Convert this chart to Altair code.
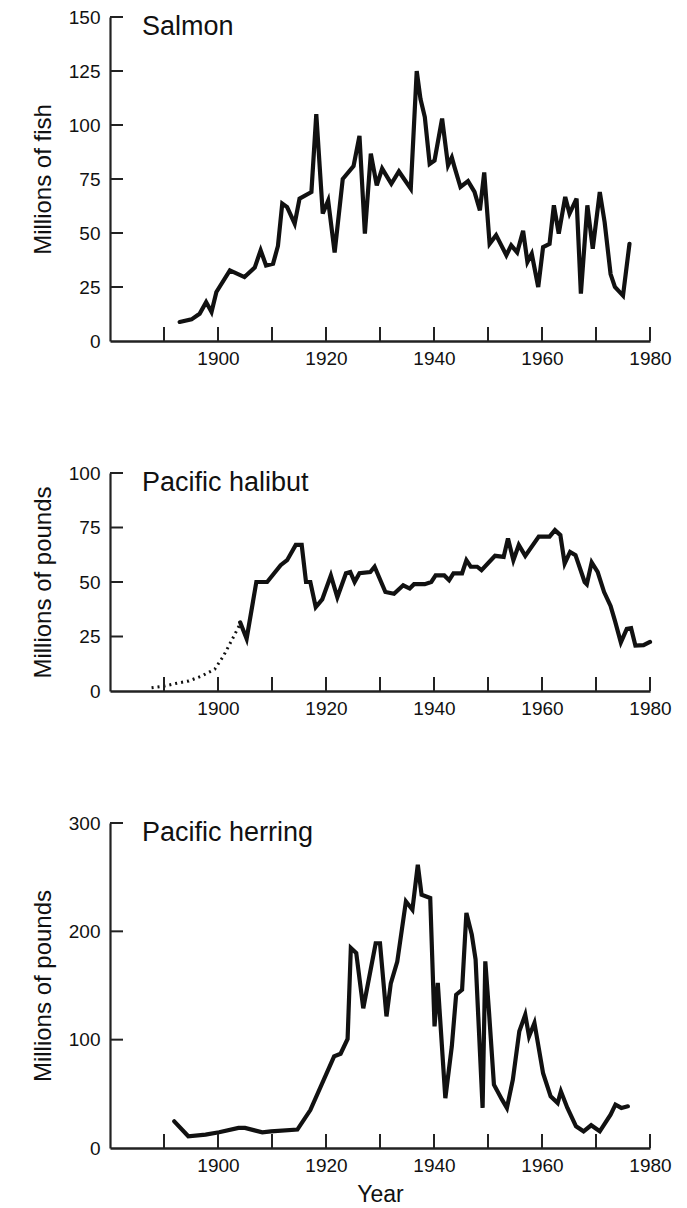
import altair as alt
import pandas as pd

# ---------------- data ----------------
salmon_year = [1892.9, 1895.1, 1896.6, 1897.8, 1898.8, 1899.7, 1902.2, 1904.9, 1906.8, 1907.9,
               1908.9, 1910.2, 1911.1, 1911.9, 1912.8, 1914.2, 1915.1, 1917.3, 1918.2, 1919.4,
               1920.4, 1921.6, 1923.1, 1925.1, 1926.2, 1927.2, 1928.3, 1929.4, 1930.4, 1932.1,
               1933.5, 1935.7, 1936.8, 1937.5, 1938.3, 1939.2, 1940.1, 1941.5, 1942.6, 1943.3,
               1943.8, 1944.9, 1946.3, 1947.5, 1948.5, 1949.3, 1950.3, 1951.5, 1953.4, 1954.3,
               1955.4, 1956.5, 1957.3, 1958.1, 1959.3, 1960.2, 1961.4, 1962.2, 1963.1, 1964.3,
               1965.1, 1966.4, 1967.2, 1968.4, 1969.4, 1970.7, 1971.6, 1972.7, 1973.5, 1975.0,
               1976.2]
salmon_val = [8.8, 10, 12.6, 18, 13.4, 22.7, 32.7, 29.6, 34, 42,
              35, 35.8, 44, 63.6, 62, 54.3, 65.9, 69, 105, 59,
              65, 41, 75, 81, 95, 49.7, 86.7, 72, 79.8, 72.8,
              78.5, 70.5, 125, 112, 103.7, 82, 83.6, 103, 81.3, 85,
              80.5, 71.3, 74, 69, 60.5, 78, 45, 49, 39.7, 44.3,
              41, 51, 36.6, 40.4, 25, 43.5, 45, 62.8, 49.7, 66.7,
              59, 65.9, 21.9, 62.8, 42.7, 69, 55, 31, 25, 21,
              45]

halibut_dot_year = [1887.7, 1890.1, 1892.1, 1894.6, 1897.0, 1899.4, 1901.0, 1902.7, 1904.1]
halibut_dot_val = [1.5, 2.3, 3.4, 4.6, 6.9, 10, 16, 24, 30.8]

halibut_year = [1904.1, 1905.3, 1907.1, 1909.1, 1911.6, 1912.8, 1914.4, 1915.5, 1916.3, 1917.1,
                1918.1, 1919.3, 1920.9, 1922.1, 1923.7, 1924.5, 1925.3, 1926.2, 1928.2, 1929.0,
                1931.0, 1932.6, 1934.3, 1935.5, 1936.3, 1938.3, 1939.5, 1940.3, 1941.9, 1942.8,
                1943.6, 1945.2, 1946.0, 1946.8, 1948.0, 1948.8, 1951.3, 1952.9, 1953.7, 1954.7,
                1955.7, 1956.9, 1959.4, 1961.4, 1962.4, 1963.4, 1964.2, 1965.2, 1966.2, 1967.9,
                1968.3, 1969.2, 1970.3, 1971.5, 1972.7, 1973.5, 1974.6, 1975.7, 1976.5, 1977.3,
                1978.8, 1980.0]
halibut_val = [31.5, 24, 50, 50, 57.7, 60, 67, 67, 50, 50,
               38.5, 42, 53, 43, 54, 54.6, 50, 54, 54.6, 57,
               45.4, 44.6, 48.5, 47, 49, 49, 50, 53, 53, 50.8,
               54, 54, 60, 57, 57, 55.4, 62, 61.5, 70, 60,
               67, 62, 70.8, 70.8, 73.8, 71.5, 58.5, 63.8, 62.3, 50,
               49, 59, 54.6, 45.4, 39, 32.3, 22.3, 28.5, 28.8, 20.8,
               21, 22.5]

herring_year = [1891.9, 1894.5, 1897.7, 1900.2, 1903.8, 1905.0, 1908.2, 1909.8, 1914.7, 1917.1,
                1921.5, 1922.7, 1924.0, 1924.6, 1925.6, 1926.9, 1929.2, 1930.0, 1931.2, 1932.0,
                1933.2, 1934.8, 1936.0, 1937.0, 1937.7, 1939.3, 1940.1, 1940.7, 1942.1, 1943.3,
                1944.1, 1945.2, 1946.0, 1947.0, 1947.7, 1949.0, 1949.5, 1950.2, 1951.1, 1952.6,
                1953.5, 1954.6, 1955.8, 1956.9, 1957.6, 1958.6, 1960.2, 1961.6, 1962.9, 1963.5,
                1964.7, 1966.3, 1967.7, 1969.1, 1970.7, 1972.7, 1973.6, 1974.7, 1975.9]
herring_val = [24.6, 10.8, 12.3, 14.5, 18.5, 18.5, 14.5, 15.4, 17, 35,
               84.6, 87, 100.6, 184.6, 180, 129, 189, 189, 121.5, 152,
               172, 227.7, 220, 261.5, 233.8, 230.8, 112.3, 152.3, 46, 93.8,
               141.5, 146, 217, 197, 174, 37, 172.3, 124.6, 58.5, 44.6,
               37, 63, 107.7, 123, 103, 115.4, 69, 47.7, 41.5, 52.3,
               37, 20, 15.4, 21, 15.4, 30.8, 40, 37, 38.5]

panel_names = ["Salmon", "Pacific halibut", "Pacific herring"]
y_titles = ["Millions of fish", "Millions of pounds", "Millions of pounds"]
x_tick_years = [1890, 1900, 1910, 1920, 1930, 1940, 1950, 1960, 1970, 1980]
x_label_years = [1900, 1920, 1940, 1960, 1980]
salmon_ticks = [0, 25, 50, 75, 100, 125, 150]
halibut_ticks = [0, 25, 50, 75, 100]
herring_ticks = [0, 100, 200, 300]

# ---------------- styling ----------------
FONT = "Liberation Sans"
W = 540
INK = "#111111"
X_DOMAIN = [1880, 1980]


def panel(years, vals, name, ytitle, yticks, H, xtitle=None, dot_years=None, dot_vals=None):
    ymax = yticks[-1]
    xscale = alt.Scale(domain=X_DOMAIN, nice=False, zero=False)
    yscale = alt.Scale(domain=[0, ymax], nice=False)

    df = pd.DataFrame({"year": years, "value": vals})
    xaxis_kw = dict(values=x_label_years, format="d", tickSize=0, grid=False,
                    labelPadding=8, labelFontSize=19, labelFont=FONT, labelColor=INK,
                    domainColor="#222222", domainWidth=2.5, labelFlush=False)
    if xtitle:
        xaxis = alt.Axis(title=xtitle, titleFontSize=23, titleFont=FONT, titleFontWeight="normal",
                         titleColor=INK, titlePadding=8, **xaxis_kw)
    else:
        xaxis = alt.Axis(title=None, **xaxis_kw)
    yaxis = alt.Axis(values=yticks, format="d", tickSize=0, grid=False, labelPadding=10,
                     labelFontSize=19, labelFont=FONT, labelColor=INK,
                     domainColor="#222222", domainWidth=2.2,
                     title=ytitle, titleFontSize=24, titleFont=FONT, titleFontWeight="normal",
                     titleColor=INK, titlePadding=13)

    x_enc = alt.X("year:Q", scale=xscale, axis=xaxis)
    y_enc = alt.Y("value:Q", scale=yscale, axis=yaxis)

    main = alt.Chart(df).mark_line(color=INK, strokeWidth=4.2, strokeJoin="miter",
                                   strokeCap="round").encode(x=x_enc, y=y_enc)
    layers = [main]
    if dot_years is not None:
        ddf = pd.DataFrame({"year": dot_years, "value": dot_vals})
        layers.append(alt.Chart(ddf).mark_line(color=INK, strokeWidth=3, strokeDash=[2, 4],
                                               strokeCap="butt").encode(x=x_enc, y=y_enc))
    # inward x ticks
    xt = pd.DataFrame({"year": x_tick_years})
    layers.append(alt.Chart(xt).mark_rule(color="#222222", strokeWidth=2).encode(
        x=x_enc, y=alt.value(H), y2=alt.value(H - 14),
    ))
    # inward y ticks
    yt = pd.DataFrame({"value": [v for v in yticks if v > 0]})
    layers.append(alt.Chart(yt).mark_rule(color="#222222", strokeWidth=2).encode(
        y=y_enc, x=alt.value(0), x2=alt.value(13),
    ))
    # panel name
    tdf = pd.DataFrame({"name": [name]})
    layers.append(alt.Chart(tdf).mark_text(align="left", baseline="alphabetic", fontSize=27,
                                           font=FONT, color=INK).encode(
        x=alt.value(32), y=alt.value(18), text="name:N",
    ))
    return alt.layer(*layers).properties(width=W, height=H)


p1 = panel(salmon_year, salmon_val, panel_names[0], y_titles[0], salmon_ticks, 324)
p2 = panel(halibut_year, halibut_val, panel_names[1], y_titles[1], halibut_ticks, 218,
           dot_years=halibut_dot_year, dot_vals=halibut_dot_val)
p3 = panel(herring_year, herring_val, panel_names[2], y_titles[2], herring_ticks, 325, xtitle="Year")

chart = alt.vconcat(p1, p2, p3, spacing=96).properties(
    padding={"left": 23, "top": 0, "right": 5, "bottom": 5},
    background="white",
).configure_view(stroke=None)

chart.save("out.html", embed_options={"renderer": "svg", "actions": False})
